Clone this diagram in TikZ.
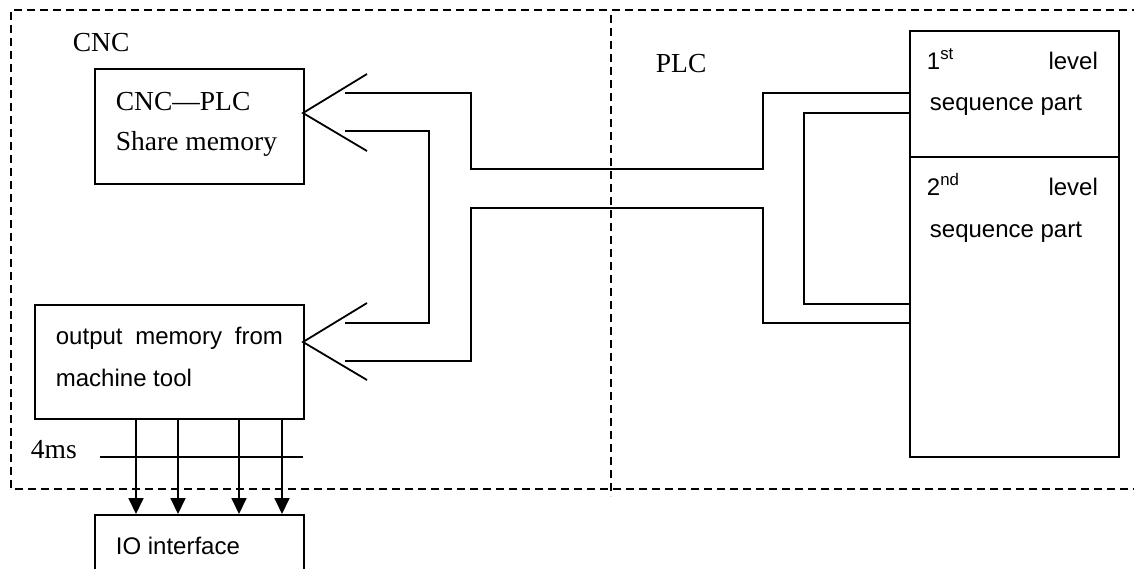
\documentclass[tikz,border=0pt]{standalone}
\usepackage{fontspec}
\setmainfont{Liberation Serif}
\setsansfont{Liberation Sans}
\usetikzlibrary{arrows.meta}
\begin{document}
\begin{tikzpicture}[x=1pt,y=-1pt, line width=1.8pt,
  box/.style={draw, line width=1.8pt, inner sep=0pt, anchor=north west},
  serif/.style={font=\fontsize{27.5}{30}\selectfont, inner sep=0pt, anchor=base west},
  sans/.style={font=\sffamily\fontsize{24}{28}\selectfont, inner sep=0pt, anchor=base west},
  frame/.style={dash pattern=on 8pt off 5pt, line width=1.8pt},
  wire/.style={line width=1.8pt},
  arr/.style={-{Triangle[length=16pt,width=15pt]}, line width=1.8pt}]
\useasboundingbox (0,0) rectangle (1134,568);
\clip (0,0) rectangle (1134,568);
% boxes
\node[box, minimum width=209pt, minimum height=115pt] (share) at (94,68) {};
\node[box, minimum width=269pt, minimum height=114pt] (out) at (34,304) {};
\node[box, minimum width=209pt, minimum height=70pt] (io) at (94,514) {};
\node[box, minimum width=209pt, minimum height=126pt] (first) at (909,30) {};
\node[box, minimum width=209pt, minimum height=300pt] (second) at (909,156) {};
% dashed frame
\draw[frame] (1140,10) -- (11,10) -- (11,489) -- (1140,489);
\draw[frame] (611,15) -- (611,496);
% fork coordinates
\coordinate (sv) at (303,113);
\coordinate (sa) at (367,74);
\coordinate (sb) at (367,151);
\coordinate (ov) at (303,342);
\coordinate (oa) at (367,303);
\coordinate (ob) at (367,380);
\draw[wire] (sa) -- (sv) -- (sb);
\draw[wire] (oa) -- (ov) -- (ob);
% wire ends
\coordinate (w1s) at (345,93);
\coordinate (w2s) at (345,131);
\coordinate (w2e) at (345,323);
\coordinate (w3s) at (345,361);
\draw[wire] (w1s) -- (471,93) -- (471,169) -- (763,169) -- (763,93) -- (first.west |- w1s);
\draw[wire] (w2s) -- (429,131) -- (429,323) -- (w2e);
\draw[wire] (w3s) -- (471,361) -- (471,208) -- (763,208) -- (763,323) -- (909,323);
\draw[wire] (909,113) -- (804,113) -- (804,304) -- (909,304);
% arrows
\foreach \xx in {136,178,239,282}{
  \draw[arr] (\xx,418) -- (\xx,514);
}
\coordinate (ms1) at (100,457);
\coordinate (ms2) at (303,457);
\draw[wire] (ms1) -- (ms2);
% texts
\node[serif] (tcnc) at (72,51) {CNC};
\node[serif] (tcp) at (115,110) {CNC—PLC};
\node[serif] (tsm) at (115,150) {Share memory};
\node[serif] (tplc) at (655,72) {PLC};
\node[serif] (t4ms) at (30,458) {4ms};
\node[sans] (tom) at (55,344) {\makebox[227pt][s]{output memory from}};
\node[sans] (tmt) at (55,386) {machine tool};
\node[sans] (tio) at (115,554) {IO interface};
\node[sans] (t1l) at (926,69) {\makebox[171pt][s]{1\textsuperscript{st} level}};
\node[sans] (t1s) at (929,110) {sequence part};
\node[sans] (t2l) at (926,195) {\makebox[171pt][s]{2\textsuperscript{nd} level}};
\node[sans] (t2s) at (929,237) {sequence part};
\end{tikzpicture}
\end{document}
